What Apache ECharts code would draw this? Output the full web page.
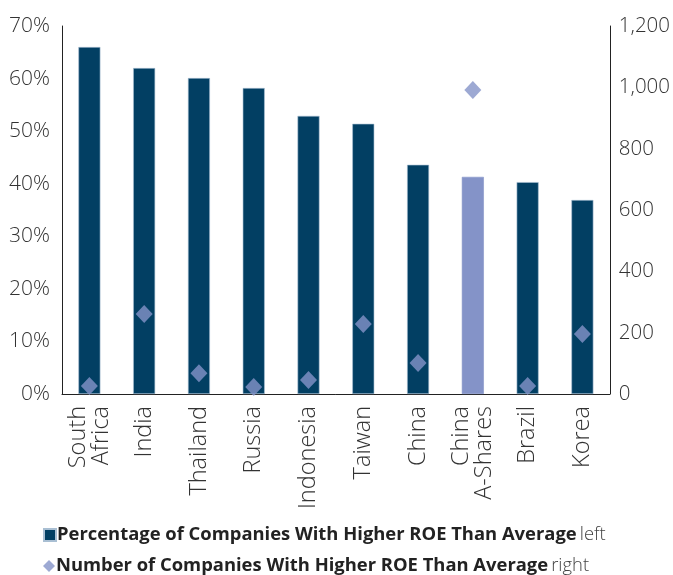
<!DOCTYPE html>
<html><head><meta charset="utf-8">
<script src="https://cdn.jsdelivr.net/npm/echarts@6/dist/echarts.min.js"></script>
<style>html,body{margin:0;padding:0;background:#fff}#c{width:673px;height:575px}</style>
</head><body><div id="c"></div>
<script>
const categories = ['South\nAfrica','India','Thailand','Russia','Indonesia','Taiwan','China','China\nA-Shares','Brazil','Korea'];
const pctValues = [66.0, 62.0, 60.1, 58.2, 52.9, 51.4, 43.6, 41.3, 40.3, 36.9];
const countValues = [26, 261, 68, 23, 46, 228, 101, 991, 26, 196];
const highlightCategory = 'China\nA-Shares';
const leftTicks = [0,10,20,30,40,50,60,70];
const rightTicks = [0,200,400,600,800,1000,1200];

const navy = '#023f63', lav = '#8493c8';
const font = 'Open Sans';
const legendText = {padding:[0,0,0,-4],rich:{
  b:{fontFamily:font,fontWeight:'bold',fontSize:18.4,color:'#222'},
  l:{fontFamily:font,fontWeight:300,fontSize:18.4,color:'#444'}
}};
const fmt = function(n){
  return n==='pct' ? '{b|Percentage of Companies With Higher ROE Than Average} {l|left}'
                   : '{b|Number of Companies With Higher ROE Than Average} {l|right}';
};
const chart = echarts.init(document.getElementById('c'));
chart.setOption({
  animation:false,
  textStyle:{fontFamily:font},
  grid:{left:62,right:60,top:26,bottom:181},
  legend:[
    {left:38, top:521, itemWidth:12, itemHeight:12, data:[{name:'pct',icon:'rect'}], formatter:fmt, textStyle:legendText},
    {left:38, top:552, itemWidth:12, itemHeight:12, data:[{name:'cnt',icon:'diamond'}], formatter:fmt, textStyle:legendText}
  ],
  xAxis:{type:'category',data:categories,
    axisLine:{show:true,lineStyle:{color:'#222',width:1}},
    axisTick:{show:false},
    axisLabel:{rotate:90,interval:0,fontSize:23.5,color:'#333',fontWeight:300,lineHeight:23,margin:12}
  },
  yAxis:[
    {type:'value',min:0,max:70,interval:10,
      axisLine:{show:true,lineStyle:{color:'#222'}},axisTick:{show:false},splitLine:{show:false},
      axisLabel:{formatter:v=>leftTicks.includes(v)?v+'%':'',fontSize:21,color:'#333',fontWeight:300,margin:12}},
    {type:'value',min:0,max:1200,interval:200,
      axisLine:{show:true,lineStyle:{color:'#222'}},axisTick:{show:false},splitLine:{show:false},
      axisLabel:{formatter:v=>rightTicks.includes(v)?v.toLocaleString('en-US'):'',fontSize:20.5,color:'#333',fontWeight:300,margin:9}}
  ],
  series:[
    {name:'pct',type:'bar',yAxisIndex:0,barWidth:22,
      itemStyle:{color:navy,borderColor:'#a9bfd3',borderWidth:0.6},
      data:pctValues.map((v,i)=>categories[i]===highlightCategory?{value:v,itemStyle:{color:lav,borderColor:lav}}:v)},
    {name:'cnt',type:'scatter',yAxisIndex:1,symbol:'diamond',symbolSize:[17,18],
      itemStyle:{color:lav},data:countValues}
  ]
});
</script></body></html>
